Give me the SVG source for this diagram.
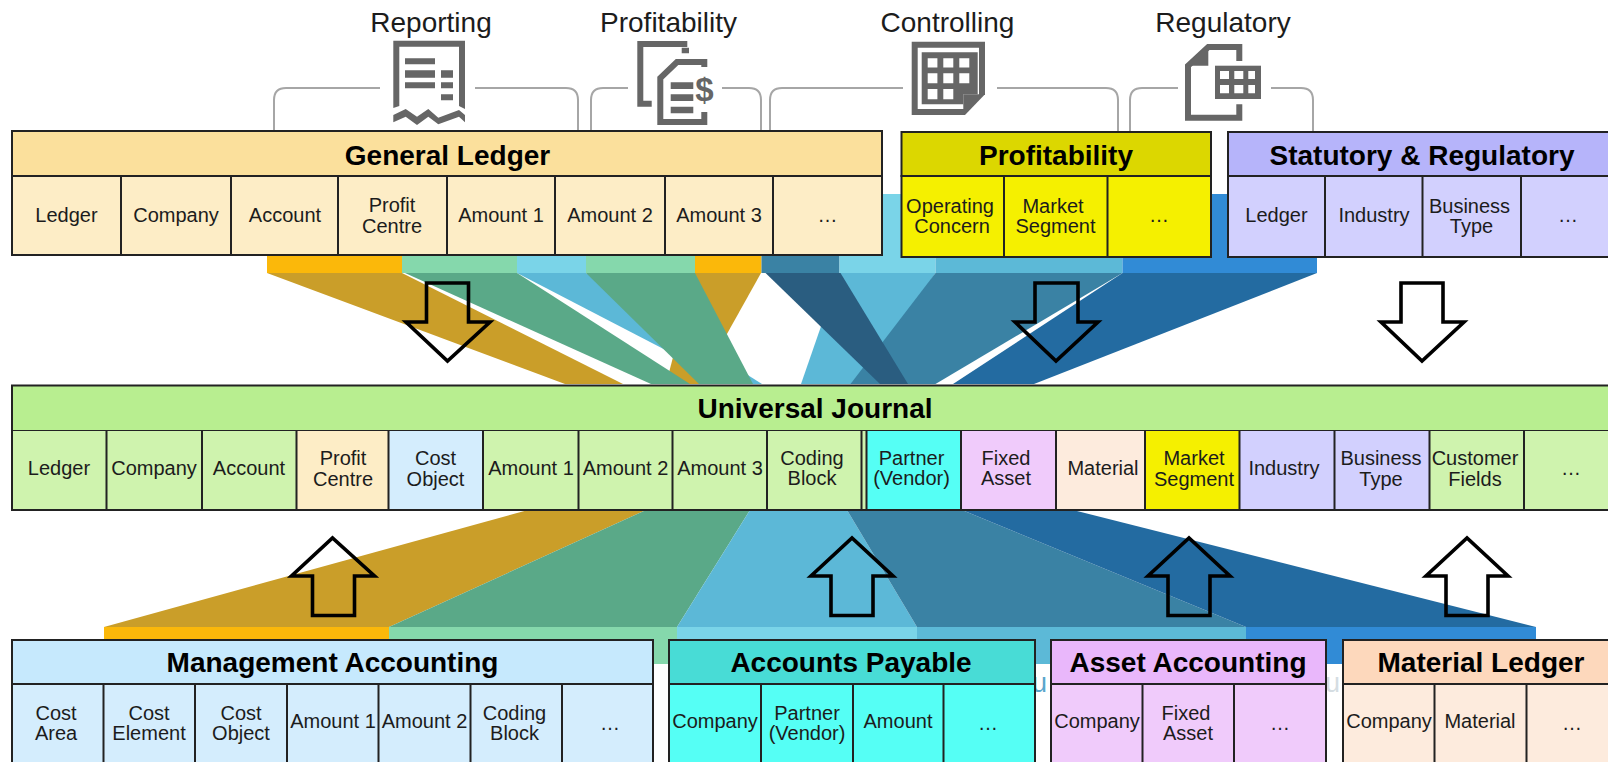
<svg xmlns="http://www.w3.org/2000/svg" width="1608" height="762" viewBox="0 0 1608 762">
<style>
text{font-family:"Liberation Sans",Arial,sans-serif;fill:#1c1c1c;text-anchor:middle}
.c{font-size:20px}
.t{font-size:28px;font-weight:bold;fill:#000}
.h{font-size:28px}
.b{stroke:#222;stroke-width:2}
.s{fill:none;stroke:#222;stroke-width:2}
.br{fill:none;stroke:#a6a6a6;stroke-width:2}
.ar{fill:none;stroke:#000;stroke-width:3.600;stroke-linejoin:miter}
.i{fill:#666}
.il{fill:none;stroke:#666;stroke-width:6}
.w{fill:#fff}
.gl1{fill:#fbe09c}.gl2{fill:#fdedc6}
.pr1{fill:#dcd700}.pr2{fill:#f5f000}
.st1{fill:#b6b4fa}.st2{fill:#d2d0fe}
.uj1{fill:#b8ee90}.uj2{fill:#cff3ae}
.ma1{fill:#c6e9fd}.ma2{fill:#d4edfd}
.ap1{fill:#48dcd6}.ap2{fill:#55fff5}
.aa1{fill:#e9b7fb}.aa2{fill:#f0cbfb}
.ml1{fill:#fdd8bc}.ml2{fill:#fdebdd}
.fgo{fill:#ca9e29}.fgr{fill:#5aa988}.flb{fill:#5cb8d7}.fte{fill:#3a82a4}.fdk{fill:#2a5d80}.fbl{fill:#236ba1}
.bgo{fill:#fbb80a}.bgr{fill:#85d8ac}.blb{fill:#7ad4e8}.bmb{fill:#5cb9d7}.bbl{fill:#318bd6}.bte{fill:#3a82a4}
</style>

<g id="connectors">
  <g id="top-funnels">
    <polygon class="fgo" points="695,273 761,273 699,384 666,384"/>
    <polygon class="flb" points="517,273 586,273 762,384 731,384"/>
    <polygon class="fgo" points="267,273 402,273 623,384 565,384"/>
    <polygon class="fgr" points="405,273 517,273 690,384 651,384"/>
    <polygon class="fgr" points="586,273 695,273 753,384 699,384"/>
    <polygon class="flb" points="839.5,273 935.5,273 862,384 801,384"/>
    <polygon class="fte" points="935.5,273 1122.5,273 935.5,384 850.5,384"/>
    <polygon class="fdk" points="765.5,273 840.5,273 908,384 880,384"/>
    <polygon class="fbl" points="1122.5,273 1317,273 1034,384 953,384"/>
  </g>
  <g id="top-bands">
    <rect class="bgo" x="267" y="256" width="135" height="17"/>
    <rect class="bgr" x="402" y="256" width="115" height="17"/>
    <rect class="blb" x="517" y="256" width="69" height="17"/>
    <rect class="bgr" x="586" y="256" width="109" height="17"/>
    <rect class="bgo" x="695" y="256" width="66.500" height="17"/>
    <rect class="bte" x="761.500" y="256" width="78" height="17"/>
    <rect class="blb" x="839.500" y="194" width="96" height="79"/>
    <rect class="bmb" x="935.500" y="194" width="187" height="79"/>
    <rect class="bbl" x="1122.500" y="194" width="194.500" height="79"/>
  </g>
  <g id="bottom-funnels">
    <polygon class="fgo" points="104,627 389,627 646,510 528,510"/>
    <polygon class="fgr" points="389,627 677,627 750,510 646,510"/>
    <polygon class="flb" points="677,627 917,627 847,510 750,510"/>
    <polygon class="fte" points="917,627 1246,627 962,510 847,510"/>
    <polygon class="fbl" points="1246,627 1536,627 1073,510 962,510"/>
  </g>
  <g id="bottom-bands">
    <rect class="bgo" x="104" y="627" width="285" height="14"/>
    <rect class="bgr" x="389" y="627" width="288" height="37"/>
    <rect class="blb" x="677" y="627" width="240" height="37"/>
    <rect class="bmb" x="917" y="627" width="329" height="37"/>
    <rect class="bbl" x="1246" y="627" width="290" height="37"/>
  </g>
  <g id="brackets">
    <path class="br" d="M274,131V100Q274,88 286,88H380"/>
    <path class="br" d="M475,88H566Q578,88 578,100V131"/>
    <path class="br" d="M591,131V100Q591,88 603,88H628"/>
    <path class="br" d="M722,88H749Q761,88 761,100V131"/>
    <path class="br" d="M770,131V100Q770,88 782,88H903"/>
    <path class="br" d="M997,88H1106Q1118,88 1118,100V131"/>
    <path class="br" d="M1130,131V100Q1130,88 1142,88H1178"/>
    <path class="br" d="M1271,88H1301Q1313,88 1313,100V131"/>
  </g>
</g>

<text x="1032" y="692" style="font-size:27px;fill:#5ba6cc;text-anchor:start">u</text>
<text x="1325" y="692" style="font-size:27px;fill:#d5dde2;text-anchor:start">u</text>

<g id="icon-reporting">
  <path class="i" d="M393.300,40.700H465V109L459,106V46.700H399.300V106L393.300,108Z"/>
  <path class="i" d="M393.300,115L405.700,109L417,116.700L428.300,109L438.300,117.700L459,110L465,115V122.300L459,116.700L438.300,124.300L428.300,116.700L417,125L405.700,116.700L393.300,122.300Z"/>
  <path class="i" d="M405,58.300h30v6h-30zM405,70.300h30v7.400h-30zM405,82.300h30v6h-30zM441,70.300h12v7.400h-12zM441,82.300h12v6h-12zM441,94.300h12v6h-12z"/>
</g>
<g id="icon-profitability">
  <path class="i" d="M637.300,41H687.300V47H643.300V100.700H651.700V106.700H637.300ZM681.700,47.700H689V53.300H681.700Z"/>
  <path class="il" d="M704.300,67V62H677L660.300,78V122H704.300V112"/>
  <path class="i" d="M670.700,82.300h22.600v6.700h-22.600zM670.700,94.300h22.600v6.700h-22.600zM670.700,106.700h22.600v6.600h-22.600z"/>
  <text x="704.500" y="101" style="font-size:33px;font-weight:bold;fill:#666">$</text>
</g>
<g id="icon-controlling">
  <polygon class="i" points="911.700,41.700 985,41.700 985,94.300 965,115 911.700,115"/>
  <polygon class="w" points="917.700,47.700 979,47.700 979,94.300 963.300,94.300 963.300,109 917.700,109"/>
  <path class="i" d="M921.700,52.300H977.700V94.300H963.300V104.300H921.700Z"/>
  <path class="w" d="M927.700,58.300h9.700v9.300h-9.700zM943.300,58.300h10v9.300h-10zM959.300,58.300h10v9.300h-10zM927.700,73.300h9.700v10h-9.700zM943.300,73.300h10v10h-10zM959.300,73.300h10v10h-10zM927.700,89h9.700v10.300h-9.700zM943.300,89h10v10.300h-10z"/>
</g>
<g id="icon-regulatory">
  <path class="il" d="M1239.300,61V47H1208.300L1188,65.700V117.700H1239.300V104.300"/>
  <polygon class="i" points="1208.300,44 1208.300,65.700 1185,65.700"/>
  <rect class="i" x="1215" y="65.700" width="46" height="33.300"/>
  <path class="w" d="M1220,71h9v8h-9zM1234.300,71h9v8h-9zM1248.300,71h6.700v8h-6.700zM1220,85h9v8.300h-9zM1234.300,85h9v8.300h-9zM1248.300,85h6.700v8.300h-6.700z"/>
</g>
<g id="top-labels">
  <text class="h" x="431" y="32">Reporting</text>
  <text class="h" x="668.500" y="32">Profitability</text>
  <text class="h" x="947.500" y="32">Controlling</text>
  <text class="h" x="1223" y="32">Regulatory</text>
</g>

<g id="general-ledger">
  <rect class="gl2 b" x="12" y="176" width="870" height="79"/>
  <rect class="gl1 b" x="12" y="131" width="870" height="45"/>
  <path class="s" d="M121,176V255M231,176V255M338,176V255M447,176V255M555,176V255M665,176V255M773,176V255"/>
  <text class="t" x="447.500" y="165">General Ledger</text>
  <text class="c" x="66.500" y="222">Ledger</text>
  <text class="c" x="176" y="222">Company</text>
  <text class="c" x="285" y="222">Account</text>
  <text class="c" x="392" y="212">Profit</text>
  <text class="c" x="392" y="233">Centre</text>
  <text class="c" x="501" y="222">Amount 1</text>
  <text class="c" x="610" y="222">Amount 2</text>
  <text class="c" x="719" y="222">Amount 3</text>
  <text class="c" x="827.500" y="222">…</text>
</g>
<g id="profitability">
  <rect class="pr2 b" x="901.500" y="176" width="309.500" height="81"/>
  <rect class="pr1 b" x="901.500" y="132" width="309.500" height="44"/>
  <path class="s" d="M1004,176V257M1107.500,176V257"/>
  <text class="t" x="1056" y="165">Profitability</text>
  <text class="c" x="950" y="213">Operating</text>
  <text class="c" x="952" y="233">Concern</text>
  <text class="c" x="1053" y="213">Market</text>
  <text class="c" x="1055.500" y="233">Segment</text>
  <text class="c" x="1159" y="222">…</text>
</g>
<g id="statutory-regulatory">
  <rect class="st2 b" x="1228" y="176" width="384" height="81"/>
  <rect class="st1 b" x="1228" y="132" width="384" height="44"/>
  <path class="s" d="M1325,176V257M1422.500,176V257M1521,176V257"/>
  <text class="t" x="1422" y="165">Statutory &amp; Regulatory</text>
  <text class="c" x="1276.500" y="222">Ledger</text>
  <text class="c" x="1374" y="222">Industry</text>
  <text class="c" x="1469.500" y="213">Business</text>
  <text class="c" x="1471.500" y="233">Type</text>
  <text class="c" x="1568" y="222">…</text>
</g>

<g id="universal-journal">
  <rect class="uj1 b" x="12" y="385.500" width="1600" height="45.500"/>
  <rect class="uj2" x="12" y="431" width="1600" height="79"/>
  <rect class="gl2" x="296.500" y="431" width="92" height="79"/>
  <rect class="ma2" x="388.500" y="431" width="94.500" height="79"/>
  <rect class="ap2" x="866.500" y="431" width="94.500" height="79"/>
  <rect class="aa2" x="961" y="431" width="95" height="79"/>
  <rect class="ml2" x="1056" y="431" width="89" height="79"/>
  <rect class="pr2" x="1145" y="431" width="94.500" height="79"/>
  <rect class="st2" x="1239.500" y="431" width="190" height="79"/>
  <path class="s" d="M12,431V510H1612M106.500,431V510M202,431V510M296.500,431V510M388.500,431V510M483,431V510M578.500,431V510M672.500,431V510M767,431V510M861.500,431V510M866.500,431V510M961,431V510M1056,431V510M1145,431V510M1239.500,431V510M1334.500,431V510M1429.500,431V510M1524,431V510"/>
  <text class="t" x="815" y="418">Universal Journal</text>
  <text class="c" x="59" y="475">Ledger</text>
  <text class="c" x="154" y="475">Company</text>
  <text class="c" x="249" y="475">Account</text>
  <text class="c" x="343" y="465">Profit</text>
  <text class="c" x="343" y="486">Centre</text>
  <text class="c" x="435.500" y="465">Cost</text>
  <text class="c" x="435.500" y="486">Object</text>
  <text class="c" x="531" y="475">Amount 1</text>
  <text class="c" x="625.500" y="475">Amount 2</text>
  <text class="c" x="720" y="475">Amount 3</text>
  <text class="c" x="812" y="465">Coding</text>
  <text class="c" x="812" y="485">Block</text>
  <text class="c" x="911.500" y="465">Partner</text>
  <text class="c" x="911.500" y="485">(Vendor)</text>
  <text class="c" x="1006" y="465">Fixed</text>
  <text class="c" x="1006" y="485">Asset</text>
  <text class="c" x="1103" y="475">Material</text>
  <text class="c" x="1194" y="465">Market</text>
  <text class="c" x="1194" y="486">Segment</text>
  <text class="c" x="1284" y="475">Industry</text>
  <text class="c" x="1381" y="465">Business</text>
  <text class="c" x="1381" y="486">Type</text>
  <text class="c" x="1475" y="465">Customer</text>
  <text class="c" x="1475" y="486">Fields</text>
  <text class="c" x="1571" y="475">…</text>
</g>

<g id="management-accounting">
  <rect class="ma2 b" x="12" y="684" width="641" height="82"/>
  <rect class="ma1 b" x="12" y="640" width="641" height="44"/>
  <path class="s" d="M103.500,684V766M195,684V766M287,684V766M378.500,684V766M470.500,684V766M562,684V766"/>
  <text class="t" x="332.500" y="672">Management Accounting</text>
  <text class="c" x="56" y="720">Cost</text>
  <text class="c" x="56" y="740">Area</text>
  <text class="c" x="149" y="720">Cost</text>
  <text class="c" x="149" y="740">Element</text>
  <text class="c" x="241" y="720">Cost</text>
  <text class="c" x="241" y="740">Object</text>
  <text class="c" x="333" y="728">Amount 1</text>
  <text class="c" x="424.500" y="728">Amount 2</text>
  <text class="c" x="514.500" y="720">Coding</text>
  <text class="c" x="514.500" y="740">Block</text>
  <text class="c" x="610" y="730">…</text>
</g>
<g id="accounts-payable">
  <rect class="ap2 b" x="669" y="684" width="366" height="82"/>
  <rect class="ap1 b" x="669" y="640" width="366" height="44"/>
  <path class="s" d="M761,684V766M853,684V766M943.500,684V766"/>
  <text class="t" x="851" y="672">Accounts Payable</text>
  <text class="c" x="715" y="728">Company</text>
  <text class="c" x="807" y="720">Partner</text>
  <text class="c" x="807" y="740">(Vendor)</text>
  <text class="c" x="898" y="728">Amount</text>
  <text class="c" x="988" y="730">…</text>
</g>
<g id="asset-accounting">
  <rect class="aa2 b" x="1051" y="684" width="275" height="82"/>
  <rect class="aa1 b" x="1051" y="640" width="275" height="44"/>
  <path class="s" d="M1142.500,684V766M1234,684V766"/>
  <text class="t" x="1188" y="672">Asset Accounting</text>
  <text class="c" x="1097" y="728">Company</text>
  <text class="c" x="1186" y="720">Fixed</text>
  <text class="c" x="1188" y="740">Asset</text>
  <text class="c" x="1280" y="730">…</text>
</g>
<g id="material-ledger">
  <rect class="ml2 b" x="1343" y="684" width="270" height="82"/>
  <rect class="ml1 b" x="1343" y="640" width="270" height="44"/>
  <path class="s" d="M1434.500,684V766M1526.500,684V766"/>
  <text class="t" x="1481" y="672">Material Ledger</text>
  <text class="c" x="1389" y="728">Company</text>
  <text class="c" x="1480" y="728">Material</text>
  <text class="c" x="1572" y="730">…</text>
</g>

<g id="flow-arrows">
  <polygon class="ar" points="426.500,283 468.500,283 468.500,322 490,322 447.500,361 406,322 426.500,322"/>
  <polygon class="ar" points="1035,283 1078,283 1078,322 1098,322 1056,361 1015,322 1035,322"/>
  <polygon class="ar" points="1401,283 1443,283 1443,322 1464,322 1422,361 1381,322 1401,322"/>
  <polygon class="ar" points="312.500,615.500 354.500,615.500 354.500,576 374.500,576 332.500,538 291.500,576 312.500,576"/>
  <polygon class="ar" points="831,615.500 873,615.500 873,576 893,576 852,538 811,576 831,576"/>
  <polygon class="ar" points="1168,615.500 1210,615.500 1210,576 1230,576 1189,538 1148,576 1168,576"/>
  <polygon class="ar" points="1446,615.500 1488,615.500 1488,576 1508,576 1467,538 1426,576 1446,576"/>
</g>
</svg>
